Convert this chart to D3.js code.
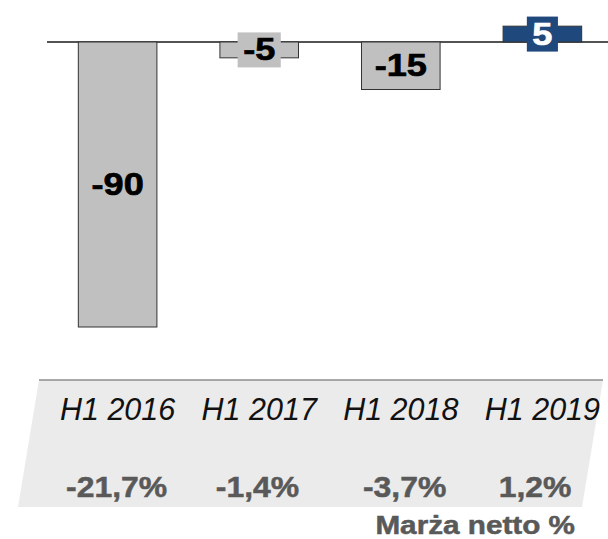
<!DOCTYPE html>
<html>
<head>
<meta charset="utf-8">
<script src="https://cdn.jsdelivr.net/npm/d3@7"></script>
<style>
  html, body { margin: 0; padding: 0; background: #ffffff; }
  svg { display: block; }
  text { font-family: "Liberation Sans", Arial, Helvetica, sans-serif; }
</style>
</head>
<body>
<svg id="chart" width="608" height="539"></svg>
<script>
// ---- data ----
const categories = ["H1 2016", "H1 2017", "H1 2018", "H1 2019"];
const values = [-90, -5, -15, 5];
const valueLabels = ["-90", "-5", "-15", "5"];
const marginLabels = ["-21,7%", "-1,4%", "-3,7%", "1,2%"];
const marginTitle = "Marża netto %";

// ---- layout ----
const zeroY = 42;
const pxPerUnit = 3.1667;
const marginNudge = [-1, -1.7, 3.8, -7.4];

const svg = d3.select("#chart");

const x = d3.scaleBand()
  .domain(categories)
  .range([50, 610])
  .paddingInner(0.445)
  .paddingOuter(0.2);

const y = d3.scaleLinear()
  .domain([-90, 5])
  .range([zeroY + 90 * pxPerUnit, zeroY - 5 * pxPerUnit]);

const greyFill = "#c0c0c0";
const blueFill = "#1f497d";
const barFill = v => v >= 0 ? blueFill : greyFill;

// bottom panel
svg.append("polygon")
  .attr("points", "39,380 603,380 582,507 18,507")
  .attr("fill", "#ebebeb");
svg.append("line")
  .attr("x1", 39).attr("x2", 603)
  .attr("y1", 380).attr("y2", 380)
  .attr("stroke", "#8c8c8c").attr("stroke-width", 1.5);

// zero line
svg.append("line")
  .attr("x1", 47).attr("x2", 608)
  .attr("y1", y(0)).attr("y2", y(0))
  .attr("stroke", "#1a1a1a").attr("stroke-width", 1.6);

// bars
svg.selectAll("rect.bar")
  .data(values)
  .enter().append("rect")
  .attr("class", "bar")
  .attr("x", (d, i) => x(categories[i]))
  .attr("width", x.bandwidth())
  .attr("y", d => y(Math.max(0, d)))
  .attr("height", d => Math.abs(y(d) - y(0)))
  .attr("fill", barFill)
  .attr("stroke", "#333333")
  .attr("stroke-width", 1);

// value labels
const fs = 32, sx = 1.13;
values.forEach((v, i) => {
  const cx = x(categories[i]) + x.bandwidth() / 2;
  const cy = (y(v) + y(0)) / 2;
  const h = Math.abs(y(v) - y(0));
  const col = v >= 0 ? "#ffffff" : "#000000";
  const g = svg.append("g").attr("transform", `translate(${cx},${cy})`);
  const t = g.append("text")
    .attr("transform", `scale(${sx},1)`)
    .attr("text-anchor", "middle")
    .attr("y", fs * 0.33)
    .attr("font-size", fs)
    .attr("font-weight", "bold")
    .attr("fill", col)
    .attr("stroke", col)
    .attr("stroke-width", 0.7)
    .text(valueLabels[i]);
  if (h < 36) {
    const tw = t.node().getComputedTextLength() * sx;
    g.insert("rect", "text")
      .attr("x", -(tw + 11) / 2)
      .attr("width", tw + 11)
      .attr("y", -17.5)
      .attr("height", 35)
      .attr("fill", barFill(v));
  }
});

// category labels
svg.selectAll("text.cat")
  .data(categories)
  .enter().append("text")
  .attr("class", "cat")
  .attr("x", d => x(d) + x.bandwidth() / 2)
  .attr("y", 420)
  .attr("text-anchor", "middle")
  .attr("font-size", 30.5)
  .attr("font-style", "italic")
  .attr("fill", "#111111")
  .text(d => d);

// margin labels
marginLabels.forEach((m, i) => {
  const cx = x(categories[i]) + x.bandwidth() / 2 + marginNudge[i];
  svg.append("g").attr("transform", `translate(${cx},497)`)
    .append("text")
    .attr("transform", "scale(1.1,1)")
    .attr("text-anchor", "middle")
    .attr("font-size", 29)
    .attr("font-weight", "bold")
    .attr("fill", "#595959")
    .attr("stroke", "#595959")
    .attr("stroke-width", 0.5)
    .text(m);
});

// margin title
svg.append("g").attr("transform", "translate(575,533.5)")
  .append("text")
  .attr("transform", "scale(1.16,1)")
  .attr("text-anchor", "end")
  .attr("font-size", 25.6)
  .attr("font-weight", "bold")
  .attr("fill", "#595959")
  .attr("stroke", "#595959")
  .attr("stroke-width", 0.5)
  .text(marginTitle);
</script>
</body>
</html>
